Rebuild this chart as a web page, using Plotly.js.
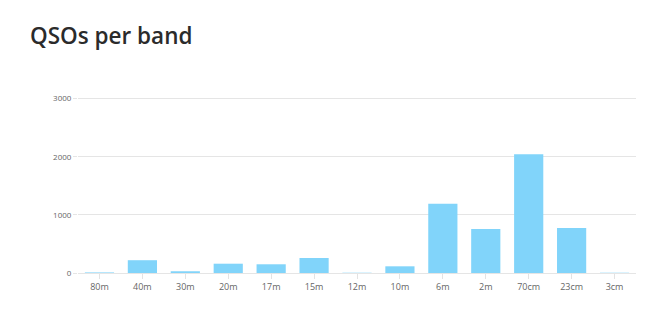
<!DOCTYPE html>
<html>
<head>
<meta charset="utf-8">
<script src="https://cdn.plot.ly/plotly-3.0.1.min.js"></script>
<style>
html,body{margin:0;padding:0;background:#fff;}
#chart{width:660px;height:314px;}
</style>
</head>
<body>
<div id="chart"></div>
<script>
const bands = ["80m","40m","30m","20m","17m","15m","12m","10m","6m","2m","70cm","23cm","3cm"];
const qsos = [10, 220, 30, 160, 150, 258, 5, 115, 1193, 757, 2042, 775, 5];
const yTicks = [0, 1000, 2000, 3000];

const trace = {
  type: "bar",
  x: bands,
  y: qsos,
  marker: {color: "#81d4fa", line: {width: 0}},
  hoverinfo: "x+y"
};

const layout = {
  width: 660, height: 314,
  margin: {l: 78, r: 24, t: 96, b: 41, pad: 0},
  paper_bgcolor: "#fff", plot_bgcolor: "#fff",
  bargap: 0.32,
  showlegend: false,
  font: {family: "Open Sans, Noto Sans, sans-serif", color: "#666", size: 9},
  title: {
    text: "QSOs per band",
    font: {family: "Open Sans, Noto Sans, sans-serif", size: 22.5, color: "#2b2b2b", weight: 600},
    x: 30/660, xref: "container", xanchor: "left",
    y: 1 - 36/314, yref: "container", yanchor: "middle"
  },
  xaxis: {
    type: "category",
    showgrid: false, zeroline: false,
    showline: false,
    ticks: "outside", ticklen: 5, tickcolor: "#e3e3e3", tickwidth: 1,
    tickfont: {size: 9, color: "#666"},
    fixedrange: true
  },
  yaxis: {
    range: [0, 3044],
    tickvals: yTicks,
    ticktext: yTicks.map(String),
    showgrid: true, gridcolor: "#e5e5e5", gridwidth: 1,
    zeroline: true, zerolinecolor: "#e5e5e5", zerolinewidth: 1,
    showline: false,
    ticks: "outside", ticklen: 4, tickcolor: "#e5e5e5",
    tickfont: {size: 8, color: "#666"},
    fixedrange: true
  }
};

Plotly.newPlot("chart", [trace], layout, {displayModeBar: false, staticPlot: true});
</script>
</body>
</html>
